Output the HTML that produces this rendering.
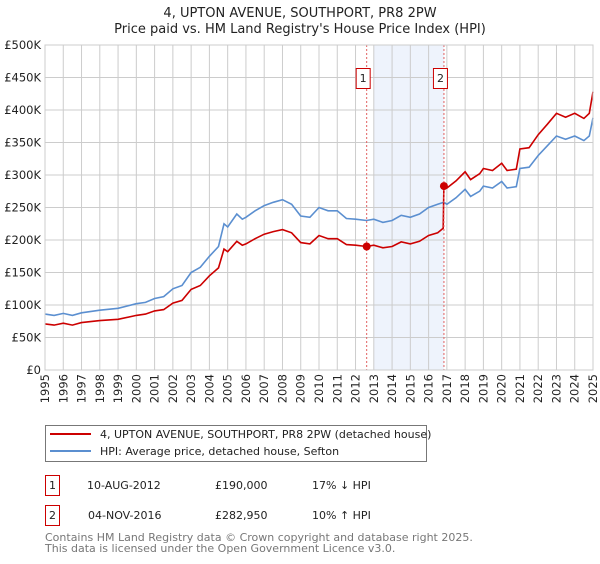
<!DOCTYPE html>
<html><head><meta charset="utf-8"><style>
body{margin:0;background:#fff;font-family:"DejaVu Sans","Liberation Sans",sans-serif;}
svg text{font-family:"DejaVu Sans","Liberation Sans",sans-serif;}
</style></head><body>
<svg id="c" width="600" height="560" xmlns="http://www.w3.org/2000/svg">
<text x="300" y="17" text-anchor="middle" font-size="13" fill="#222">4, UPTON AVENUE, SOUTHPORT, PR8 2PW</text>
<text x="300" y="33" text-anchor="middle" font-size="13" fill="#222">Price paid vs. HM Land Registry's House Price Index (HPI)</text>
<g id="grid"></g><g id="marks"></g>
<g>
<rect x="45.5" y="425.5" width="381" height="36" fill="#fff" stroke="#777"/>
<line x1="50" y1="434" x2="91" y2="434" stroke="#cc0000" stroke-width="2"/>
<text x="100" y="438" font-size="11" fill="#222">4, UPTON AVENUE, SOUTHPORT, PR8 2PW (detached house)</text>
<line x1="50" y1="451" x2="91" y2="451" stroke="#5b8fd0" stroke-width="2"/>
<text x="100" y="455" font-size="11" fill="#222">HPI: Average price, detached house, Sefton</text>
</g>
<g font-size="11" fill="#222">
<rect x="45.5" y="475.5" width="14" height="20" fill="#fff" stroke="#cc0000"/><text x="52.5" y="489" text-anchor="middle">1</text>
<text x="87" y="489">10-AUG-2012</text><text x="215" y="489">£190,000</text><text x="312" y="489">17% ↓ HPI</text>
<rect x="45.5" y="505.5" width="14" height="20" fill="#fff" stroke="#cc0000"/><text x="52.5" y="519" text-anchor="middle">2</text>
<text x="88" y="519">04-NOV-2016</text><text x="215" y="519">£282,950</text><text x="312" y="519">10% ↑ HPI</text>
</g>
<text x="45" y="541" font-size="11" fill="#777">Contains HM Land Registry data © Crown copyright and database right 2025.</text>
<text x="45" y="552" font-size="11" fill="#777">This data is licensed under the Open Government Licence v3.0.</text>
</svg>
<script>
const yTicks=[0,50,100,150,200,250,300,350,400,450,500];
const yLabels=["£0","£50K","£100K","£150K","£200K","£250K","£300K","£350K","£400K","£450K","£500K"];
const xYears=[1995,1996,1997,1998,1999,2000,2001,2002,2003,2004,2005,2006,2007,2008,2009,2010,2011,2012,2013,2014,2015,2016,2017,2018,2019,2020,2021,2022,2023,2024,2025];
const hpiDates=[1995,1995.5,1996,1996.5,1997,1998,1999,2000,2000.5,2001,2001.5,2002,2002.5,2003,2003.5,2004,2004.5,2004.8,2005,2005.5,2005.8,2006,2006.5,2007,2007.5,2008,2008.5,2009,2009.5,2010,2010.5,2011,2011.5,2012,2012.6,2013,2013.5,2014,2014.5,2015,2015.5,2016,2016.5,2016.84,2017,2017.5,2018,2018.3,2018.8,2019,2019.5,2020,2020.3,2020.8,2021,2021.5,2022,2022.5,2023,2023.5,2024,2024.5,2024.8,2025];
const hpiValues=[86,84,87,84,88,92,95,102,104,110,113,125,130,150,158,175,190,225,220,240,232,235,245,253,258,262,255,237,235,250,245,245,233,232,230,232,227,230,238,235,240,250,255,258,255,265,278,267,275,283,280,290,280,282,310,312,330,345,360,355,360,353,360,388];
const propDates=[1995,1995.5,1996,1996.5,1997,1998,1999,2000,2000.5,2001,2001.5,2002,2002.5,2003,2003.5,2004,2004.5,2004.8,2005,2005.5,2005.8,2006,2006.5,2007,2007.5,2008,2008.5,2009,2009.5,2010,2010.5,2011,2011.5,2012,2012.6,2013,2013.5,2014,2014.5,2015,2015.5,2016,2016.5,2016.8,2016.84,2017,2017.5,2018,2018.3,2018.8,2019,2019.5,2020,2020.3,2020.8,2021,2021.5,2022,2022.5,2023,2023.5,2024,2024.5,2024.8,2025];
const propValues=[71,69,72,69,73,76,78,84,86,91,93,103,107,124,130,145,157,186,182,198,192,194,202,209,213,216,211,196,194,207,202,202,193,192,190,192,188,190,197,194,198,207,211,218,283,280,291,305,293,302,310,307,318,307,309,340,342,362,378,395,389,395,387,395,428];
const saleDates=[2012.61,2016.84];
const salePrices=[190,282.95];
const saleLabels=["1","2"];
const shadeRange=[2013.0,2016.84];

const X0=45,X1=593,Y0=370,Y1=45;
const xs=t=>X0+(t-1995)/30*(X1-X0);
const ys=v=>Y0-v/500*(Y0-Y1);
const NS="http://www.w3.org/2000/svg";
function mk(tag,attrs,parent){const e=document.createElementNS(NS,tag);for(const k in attrs)e.setAttribute(k,attrs[k]);parent.appendChild(e);return e;}
const grid=document.getElementById('grid'),marks=document.getElementById('marks');
const sh=mk('rect',{x:xs(shadeRange[0]),y:Y1,width:xs(shadeRange[1])-xs(shadeRange[0]),height:Y0-Y1,fill:'#eef3fc'},grid);


yTicks.forEach((v,i)=>{
  const l=mk('line',{x1:X0,x2:X1,y1:ys(v),y2:ys(v),stroke:'#ccc'},grid);
  
  
  const t=mk('text',{x:X0-4,y:ys(v)+4,'text-anchor':'end','font-size':'11.5',fill:'#222'},grid);
  t.textContent=yLabels[i];
  
  
});
xYears.forEach(y=>{
  const l=mk('line',{x1:xs(y),x2:xs(y),y1:Y1,y2:Y0,stroke:'#ccc'},grid);
  
  
  const t=mk('text',{x:0,y:0,'text-anchor':'end','font-size':'11.5',fill:'#222',transform:`translate(${xs(y)+4},374) rotate(-90)`},grid);
  t.textContent=y;
  
  
});
function path(d,v){return d.map((t,i)=>(i?'L':'M')+xs(t).toFixed(1)+','+ys(v[i]).toFixed(1)).join('');}
const hp=mk('path',{d:path(hpiDates,hpiValues),fill:'none',stroke:'#5b8fd0','stroke-width':1.6},marks);


const pp=mk('path',{d:path(propDates,propValues),fill:'none',stroke:'#cc0000','stroke-width':1.6},marks);


saleDates.forEach((d,i)=>{
  const l=mk('line',{x1:xs(d),x2:xs(d),y1:Y1,y2:Y0,stroke:'#e06060','stroke-dasharray':'2,2'},marks);
  
  
  const c=mk('circle',{cx:xs(d),cy:ys(salePrices[i]),r:4,fill:'#cc0000'},marks);
  
  
  const r=mk('rect',{x:xs(d)-10.5,y:68.5,width:14,height:20,fill:'#fff',stroke:'#cc0000'},marks);
  
  
  const t=mk('text',{x:xs(d)-3.5,y:82,'text-anchor':'middle','font-size':'11',fill:'#222'},marks);
  t.textContent=saleLabels[i];
  
  
});
const ax=mk('rect',{x:X0,y:Y1,width:X1-X0,height:Y0-Y1,fill:'none',stroke:'#ccc'},marks);


</script>
</body></html>
